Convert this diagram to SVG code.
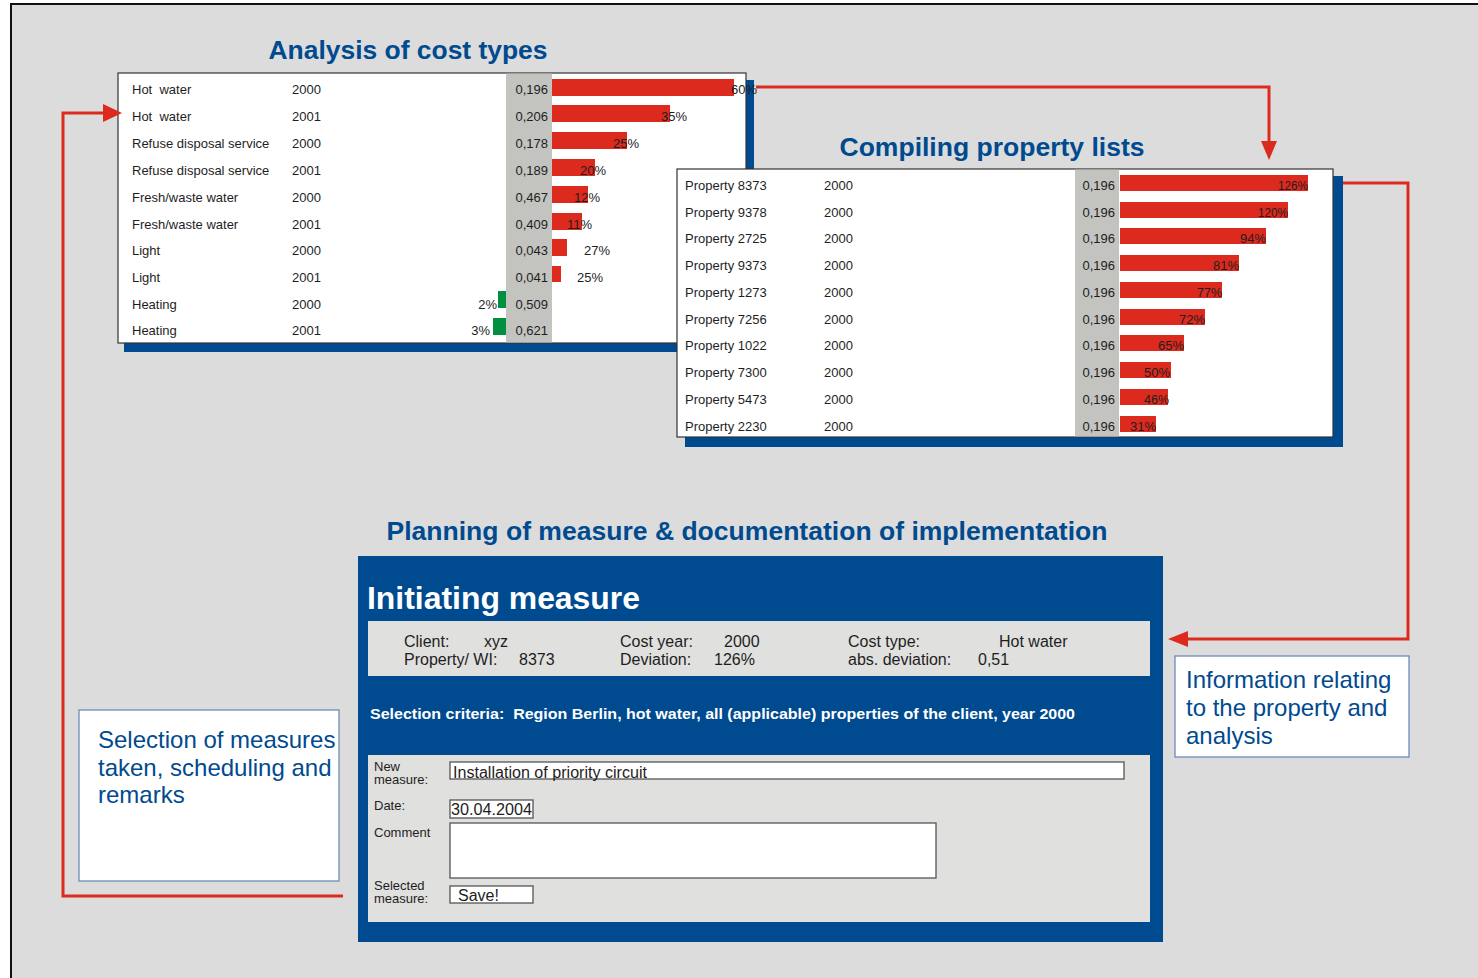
<svg xmlns="http://www.w3.org/2000/svg" width="1478" height="978" viewBox="0 0 1478 978">
<style>
.t{font-family:"Liberation Sans",Arial,sans-serif;fill:#1e1e1e;font-size:13px}
.v{font-family:"Liberation Sans",Arial,sans-serif;fill:#1e1e1e;font-size:13px;text-anchor:end}
.p{font-family:"Liberation Sans",Arial,sans-serif;fill:#1e1e1e;font-size:12.5px}
.pe{font-family:"Liberation Sans",Arial,sans-serif;fill:#1e1e1e;font-size:12.5px;text-anchor:end}
.h{font-family:"Liberation Sans",Arial,sans-serif;fill:#004a8f;font-weight:bold;font-size:26px}
.i{font-family:"Liberation Sans",Arial,sans-serif;fill:#1e1e1e;font-size:16px}
.f{font-family:"Liberation Sans",Arial,sans-serif;fill:#1e1e1e;font-size:13px}
.s{font-family:"Liberation Sans",Arial,sans-serif;fill:#004a8f;font-size:24px}
.bar{fill:#dc2a1e}
.gbar{fill:#009040}
.col{fill:#c3c3c0}
.shadow{fill:#004a8f}
.panel{fill:#ffffff;stroke:#333333;stroke-width:1.2}
.box{fill:#ffffff;stroke:#555555;stroke-width:1.3}
.note{fill:#ffffff;stroke:#6a8cb8;stroke-width:1.3}
.con{fill:none;stroke:#dc2a1e;stroke-width:3}
.ah{fill:#dc2a1e}
</style>
<rect x="0" y="0" width="1478" height="978" fill="#ffffff"/>
<rect x="11" y="4" width="1500" height="1000" fill="#dcdcdc" stroke="#111111" stroke-width="2"/>

<g id="analysis-cost-types">
<text class="h" x="408" y="59" text-anchor="middle" textLength="279" lengthAdjust="spacingAndGlyphs">Analysis of cost types</text>
<rect class="shadow" x="124" y="80" width="630" height="272"/>
<rect class="panel" x="118" y="73" width="628" height="270"/>
<rect class="col" x="506" y="73.6" width="46" height="268.8"/>
<g>
<text class="t" x="132" y="94" style="white-space:pre">Hot  water</text><text class="t" x="292" y="94">2000</text><text class="v" x="548" y="94">0,196</text>
<text class="t" x="132" y="121" style="white-space:pre">Hot  water</text><text class="t" x="292" y="121">2001</text><text class="v" x="548" y="121">0,206</text>
<text class="t" x="132" y="148">Refuse disposal service</text><text class="t" x="292" y="148">2000</text><text class="v" x="548" y="148">0,178</text>
<text class="t" x="132" y="175">Refuse disposal service</text><text class="t" x="292" y="175">2001</text><text class="v" x="548" y="175">0,189</text>
<text class="t" x="132" y="202">Fresh/waste water</text><text class="t" x="292" y="202">2000</text><text class="v" x="548" y="202">0,467</text>
<text class="t" x="132" y="229">Fresh/waste water</text><text class="t" x="292" y="229">2001</text><text class="v" x="548" y="229">0,409</text>
<text class="t" x="132" y="255">Light</text><text class="t" x="292" y="255">2000</text><text class="v" x="548" y="255">0,043</text>
<text class="t" x="132" y="282">Light</text><text class="t" x="292" y="282">2001</text><text class="v" x="548" y="282">0,041</text>
<text class="t" x="132" y="309">Heating</text><text class="t" x="292" y="309">2000</text><text class="v" x="548" y="309">0,509</text>
<text class="t" x="132" y="335">Heating</text><text class="t" x="292" y="335">2001</text><text class="v" x="548" y="335">0,621</text>
</g>
<g>
<rect class="bar" x="552" y="79" width="182" height="17"/>
<rect class="bar" x="552" y="105" width="118" height="17"/>
<rect class="bar" x="552" y="132" width="75" height="17"/>
<rect class="bar" x="552" y="159" width="43" height="17"/>
<rect class="bar" x="552" y="186" width="36" height="17"/>
<rect class="bar" x="552" y="213" width="30" height="17"/>
<rect class="bar" x="552" y="239" width="15" height="17"/>
<rect class="bar" x="552" y="266" width="9" height="16"/>
<rect class="gbar" x="498" y="291" width="8" height="17"/>
<rect class="gbar" x="493" y="318" width="13" height="17"/>
<text class="t" x="731" y="94">60%</text>
<text class="t" x="661" y="121">35%</text>
<text class="t" x="613" y="148">25%</text>
<text class="t" x="580" y="175">20%</text>
<text class="t" x="574" y="202">12%</text>
<text class="t" x="567" y="229">11%</text>
<text class="t" x="584" y="255">27%</text>
<text class="t" x="577" y="282">25%</text>
<text class="v" x="497" y="309">2%</text>
<text class="v" x="490" y="335">3%</text>
</g>
</g>

<g id="property-lists">
<text class="h" x="992" y="156" text-anchor="middle" textLength="305" lengthAdjust="spacingAndGlyphs">Compiling property lists</text>
<rect class="shadow" x="685" y="176" width="658" height="271"/>
<rect class="panel" x="677" y="169" width="656" height="268"/>
<rect class="col" x="1075" y="169.6" width="44" height="266.8"/>
<g>
<text class="t" x="685" y="190">Property 8373</text><text class="t" x="824" y="190">2000</text><text class="v" x="1115" y="190">0,196</text>
<text class="t" x="685" y="217">Property 9378</text><text class="t" x="824" y="217">2000</text><text class="v" x="1115" y="217">0,196</text>
<text class="t" x="685" y="243">Property 2725</text><text class="t" x="824" y="243">2000</text><text class="v" x="1115" y="243">0,196</text>
<text class="t" x="685" y="270">Property 9373</text><text class="t" x="824" y="270">2000</text><text class="v" x="1115" y="270">0,196</text>
<text class="t" x="685" y="297">Property 1273</text><text class="t" x="824" y="297">2000</text><text class="v" x="1115" y="297">0,196</text>
<text class="t" x="685" y="324">Property 7256</text><text class="t" x="824" y="324">2000</text><text class="v" x="1115" y="324">0,196</text>
<text class="t" x="685" y="350">Property 1022</text><text class="t" x="824" y="350">2000</text><text class="v" x="1115" y="350">0,196</text>
<text class="t" x="685" y="377">Property 7300</text><text class="t" x="824" y="377">2000</text><text class="v" x="1115" y="377">0,196</text>
<text class="t" x="685" y="404">Property 5473</text><text class="t" x="824" y="404">2000</text><text class="v" x="1115" y="404">0,196</text>
<text class="t" x="685" y="431">Property 2230</text><text class="t" x="824" y="431">2000</text><text class="v" x="1115" y="431">0,196</text>
</g>
<g>
<rect class="bar" x="1120" y="175" width="188" height="16"/>
<rect class="bar" x="1120" y="202" width="168" height="16"/>
<rect class="bar" x="1120" y="228" width="146" height="16"/>
<rect class="bar" x="1120" y="255" width="119" height="16"/>
<rect class="bar" x="1120" y="282" width="102" height="16"/>
<rect class="bar" x="1120" y="309" width="85" height="16"/>
<rect class="bar" x="1120" y="335" width="64" height="16"/>
<rect class="bar" x="1120" y="362" width="51" height="16"/>
<rect class="bar" x="1120" y="389" width="48" height="16"/>
<rect class="bar" x="1120" y="416" width="36" height="16"/>
<text class="pe" x="1308" y="190" textLength="30" lengthAdjust="spacingAndGlyphs">126%</text>
<text class="pe" x="1288" y="217" textLength="30" lengthAdjust="spacingAndGlyphs">120%</text>
<text class="pe" x="1266" y="243" textLength="26" lengthAdjust="spacingAndGlyphs">94%</text>
<text class="pe" x="1239" y="270" textLength="26" lengthAdjust="spacingAndGlyphs">81%</text>
<text class="pe" x="1222" y="297" textLength="25" lengthAdjust="spacingAndGlyphs">77%</text>
<text class="pe" x="1205" y="324" textLength="26" lengthAdjust="spacingAndGlyphs">72%</text>
<text class="pe" x="1184" y="350" textLength="26" lengthAdjust="spacingAndGlyphs">65%</text>
<text class="pe" x="1170" y="377" textLength="26" lengthAdjust="spacingAndGlyphs">50%</text>
<text class="pe" x="1169" y="404" textLength="25" lengthAdjust="spacingAndGlyphs">46%</text>
<text class="pe" x="1156" y="431" textLength="26" lengthAdjust="spacingAndGlyphs">31%</text>
</g>
</g>

<g id="initiating-measure">
<text class="h" x="747" y="540" text-anchor="middle" textLength="721" lengthAdjust="spacingAndGlyphs">Planning of measure &amp; documentation of implementation</text>
<rect x="358" y="556" width="805" height="386" fill="#004a8f"/>
<text x="367" y="609" font-family="'Liberation Sans',Arial,sans-serif" font-weight="bold" font-size="32" fill="#ffffff" textLength="273" lengthAdjust="spacingAndGlyphs">Initiating measure</text>
<rect x="368" y="621" width="782" height="55" fill="#e0e0de"/>
<text class="i" x="404" y="647">Client:</text><text class="i" x="484" y="647">xyz</text>
<text class="i" x="404" y="665">Property/ WI:</text><text class="i" x="519" y="665">8373</text>
<text class="i" x="620" y="647">Cost year:</text><text class="i" x="724" y="647">2000</text>
<text class="i" x="620" y="665">Deviation:</text><text class="i" x="714" y="665">126%</text>
<text class="i" x="848" y="647">Cost type:</text><text class="i" x="999" y="647">Hot water</text>
<text class="i" x="848" y="665">abs. deviation:</text><text class="i" x="978" y="665">0,51</text>
<text x="370" y="719" font-family="'Liberation Sans',Arial,sans-serif" font-weight="bold" font-size="15.5" fill="#ffffff" textLength="705" lengthAdjust="spacingAndGlyphs" style="white-space:pre">Selection criteria:  Region Berlin, hot water, all (applicable) properties of the client, year 2000</text>
<rect x="368" y="755" width="782" height="167" fill="#e0e0de"/>
<text class="f" x="374" y="771">New</text>
<text class="f" x="374" y="784">measure:</text>
<rect class="box" x="450" y="762" width="674" height="17"/>
<text class="i" x="453" y="778" textLength="194" lengthAdjust="spacingAndGlyphs">Installation of priority circuit</text>
<text class="f" x="374" y="810">Date:</text>
<rect class="box" x="450" y="800" width="83" height="18"/>
<text class="i" x="451" y="815" textLength="81" lengthAdjust="spacingAndGlyphs">30.04.2004</text>
<text class="f" x="374" y="837">Comment</text>
<rect class="box" x="450" y="823" width="486" height="55"/>
<text class="f" x="374" y="890">Selected</text>
<text class="f" x="374" y="903">measure:</text>
<rect class="box" x="450" y="886" width="83" height="17"/>
<text class="i" x="458" y="901">Save!</text>
</g>

<g id="note-selection">
<rect class="note" x="79" y="710" width="260" height="171"/>
<text class="s" x="98" y="748">Selection of measures</text>
<text class="s" x="98" y="776">taken, scheduling and</text>
<text class="s" x="98" y="803">remarks</text>
</g>

<g id="note-information">
<rect class="note" x="1175" y="656" width="234" height="101"/>
<text class="s" x="1186" y="688">Information relating</text>
<text class="s" x="1186" y="716">to the property and</text>
<text class="s" x="1186" y="744">analysis</text>
</g>

<g id="connectors">
<path class="con" d="M756 87 H1269 V144"/>
<polygon class="ah" points="1269,160 1261,141 1277,141"/>
<path class="con" d="M1343 183 H1408 V639 H1185"/>
<polygon class="ah" points="1168,639 1188,631 1188,647"/>
<path class="con" d="M343 896 H63 V113 H105"/>
<polygon class="ah" points="122,113 103,104 103,122"/>
</g>
</svg>
